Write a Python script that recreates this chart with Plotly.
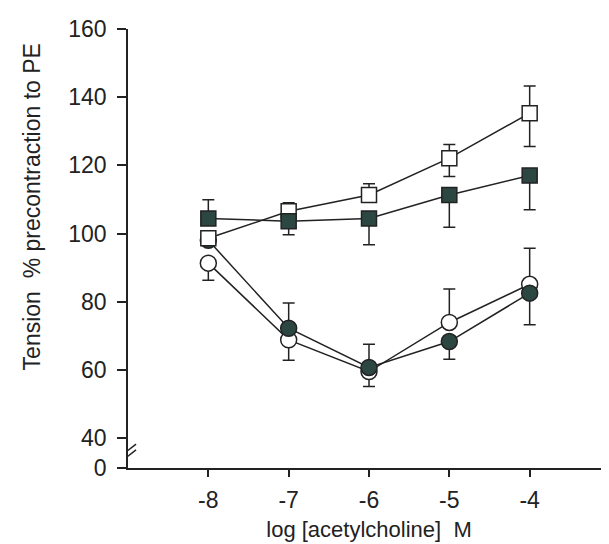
import plotly.graph_objects as go

# log [acetylcholine] M
log_ach = [-8, -7, -6, -5, -4]

# Tension, % precontraction to PE
open_square = [98.6, 106.5, 111.3, 122.1, 135.3]
open_square_err_up = [0, 2.5, 3.3, 4.0, 8.0]
open_square_err_dn = [0, 0, 0, 5.4, 9.8]

filled_square = [104.4, 103.6, 104.4, 111.3, 117.0]
filled_square_err_up = [5.5, 0, 0, 0, 0]
filled_square_err_dn = [0, 4.0, 7.7, 9.5, 10.0]

open_circle = [91.3, 68.8, 59.5, 73.9, 85.1]
open_circle_err_up = [0, 0, 0, 9.8, 10.6]
open_circle_err_dn = [5.0, 6.0, 4.4, 0, 0]

filled_circle = [98.0, 72.2, 60.7, 68.3, 82.5]
filled_circle_err_up = [0, 7.4, 6.8, 0, 0]
filled_circle_err_dn = [0, 0, 0, 5.2, 9.3]

x_tickvals = [-8, -7, -6, -5, -4, -3]
x_ticktext = ["-8", "-7", "-6", "-5", "-4", ""]
y_zero_pos = 31.2  # axis break: "0" drawn just below 40
y_tickvals = [y_zero_pos, 40, 60, 80, 100, 120, 140, 160]
y_ticktext = ["0", "40", "60", "80", "100", "120", "140", "160"]

INK = "#222222"
FILL = "#2c4742"
FONT = "Liberation Sans Narrow, Arial Narrow, Liberation Sans, Arial, sans-serif"

fig = go.Figure()


def add_series(y, up, dn, symbol, color, size):
    fig.add_trace(go.Scatter(
        x=log_ach, y=y, mode="lines+markers",
        line=dict(color=INK, width=1.5),
        marker=dict(symbol=symbol, size=size, color=color,
                    line=dict(color=INK, width=1.5)),
        error_y=dict(type="data", symmetric=False, array=up, arrayminus=dn,
                     color=INK, thickness=1.5, width=6),
        showlegend=False, cliponaxis=False,
    ))


add_series(open_circle, open_circle_err_up, open_circle_err_dn, "circle", "white", 16)
add_series(filled_circle, filled_circle_err_up, filled_circle_err_dn, "circle", FILL, 16)
add_series(open_square, open_square_err_up, open_square_err_dn, "square", "white", 15)
add_series(filled_square, filled_square_err_up, filled_square_err_dn, "square", FILL, 15)

# axis-break marks
for dy in (0, -1.7):
    fig.add_shape(type="line", xref="x", yref="y",
                  x0=-9.075, x1=-8.9, y0=35.0 + dy, y1=38.2 + dy,
                  line=dict(color=INK, width=1.5))

fig.add_annotation(
    text="Tension\u00a0\u00a0% precontraction to PE",
    xref="paper", yref="paper", x=-0.2, y=0.595,
    xanchor="center", yanchor="middle", textangle=-90, showarrow=False,
    font=dict(family=FONT, size=23, color=INK),
)

fig.update_layout(
    width=609, height=544,
    margin=dict(l=120, r=7, t=21, b=84),
    paper_bgcolor="white", plot_bgcolor="white",
    font=dict(family=FONT, size=23, color=INK),
    xaxis=dict(
        range=[-9, -3], showgrid=False, zeroline=False,
        showline=True, linecolor=INK, linewidth=1.8,
        ticks="outside", ticklen=7, tickwidth=1.5, tickcolor=INK,
        tickvals=x_tickvals, ticktext=x_ticktext, ticklabelstandoff=3,
        title=dict(text="log [acetylcholine]\u00a0\u00a0M", standoff=10,
                   font=dict(family=FONT, size=22, color=INK)),
    ),
    yaxis=dict(
        range=[y_zero_pos, 160], showgrid=False, zeroline=False,
        showline=True, linecolor=INK, linewidth=1.8,
        ticks="outside", ticklen=9, tickwidth=1.5, tickcolor=INK,
        tickvals=y_tickvals, ticktext=y_ticktext, ticklabelstandoff=6,
    ),
)

fig.write_html("out.html")
